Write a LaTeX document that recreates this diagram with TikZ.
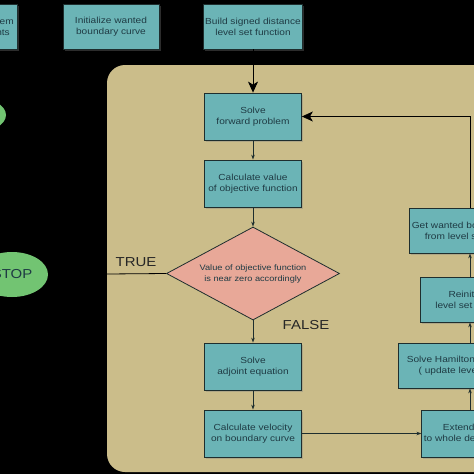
\documentclass[tikz,border=0pt]{standalone}
\usepackage{fontspec}
\usepackage{tikz}
\usetikzlibrary{shapes.geometric,arrows.meta,shadows}
\newfontfamily\chartfont{Liberation Sans}[FakeStretch=1.15]
\definecolor{boxteal}{HTML}{6BB4B6}
\definecolor{boxline}{HTML}{1E2E2E}
\definecolor{boxtext}{HTML}{1F3B44}
\definecolor{tanbg}{HTML}{CBBD8A}
\definecolor{salmon}{HTML}{E8A898}
\definecolor{termgreen}{HTML}{72C472}

\begin{document}
\begin{tikzpicture}[x=1pt,y=-1pt,
  box/.style={draw=boxline, line width=0.8pt, fill=boxteal, text=boxtext,
    align=center, inner sep=2pt, minimum height=45pt,
    font=\chartfont\fontsize{8.8}{11}\selectfont,
    drop shadow={shadow xshift=1.5pt, shadow yshift=-1.5pt, opacity=0.35}},
  decision/.style={diamond, draw=boxline, line width=0.8pt, fill=salmon,
    text=boxtext, align=center, inner sep=0pt, aspect=1.86,
    minimum width=173pt, minimum height=93pt,
    font=\chartfont\fontsize{8}{11}\selectfont},
  term/.style={ellipse, fill=termgreen, text=boxtext,
    font=\chartfont\fontsize{13}{15}\selectfont},
  label/.style={text=black!85, font=\chartfont\fontsize{13}{15}\selectfont},
  smallarrow/.style={draw=boxline, line width=0.8pt, -{Stealth[length=5pt,width=3.5pt]}},
  bigarrow/.style={draw=black, line width=0.8pt, -{Stealth[length=11pt,width=10pt,inset=3pt]}}]

\useasboundingbox (0,0) rectangle (474,474);
\clip (0,0) rectangle (474,474);
\fill[black] (0,0) rectangle (474,474);

% loop area
\fill[tanbg, rounded corners=18pt] (107,65) rectangle (530,472);

% start / stop
\node[term, minimum width=66pt, minimum height=36pt] (start) at (-27,115) {};
\node[term, minimum width=72pt, minimum height=45pt] (stop) at (12,274.5) {STOP};

% set up
\node[box, minimum width=96pt] (define) at (-31,26.5) {Specify the problem\\and its constraints};
\node[box, minimum width=96pt] (init) at (111,26.5) {Initialize wanted\\boundary curve};
\node[box, minimum width=96pt] (build) at (253,26.5) {Build signed distance\\level set function};

% optimization loop
\node[box, minimum width=97pt, minimum height=47pt] (fwd) at (253,116.5) {Solve\\forward problem};
\node[box, minimum width=97pt, minimum height=47pt] (objval) at (253,183.5) {Calculate value\\of objective function};
\node[decision] (dec) at (253,273.5) {Value of objective function\\is near zero accordingly};
\node[box, minimum width=97pt, minimum height=47pt] (adj) at (253,366.5) {Solve\\adjoint equation};
\node[box, minimum width=97pt, minimum height=47pt] (vel) at (253,433.5) {Calculate velocity\\on boundary curve};

\node[box, minimum width=108pt, minimum height=47pt] (ext) at (477,433.5) {Extend velocity\\to whole design domain};
\node[box, minimum width=160pt] (hj) at (478,365.5) {Solve Hamilton-Jacobi equation\\( update level set function)};
\node[box, minimum width=106pt] (reinit) at (473,299.5) {Reinitialize\\level set function};
\node[box, minimum width=130pt] (getb) at (474,230.5) {Get wanted boundary curve\\from level set function};

\node[label] (true) at (136,262) {TRUE};
\node[label] (false) at (306,325) {FALSE};

\coordinate (col) at (470,0);

\draw[bigarrow] (build) -- (fwd);
\draw[smallarrow] (fwd) -- (objval);
\draw[smallarrow] (objval) -- (dec);
\draw[smallarrow] (dec) -- (adj);
\draw[smallarrow] (adj) -- (vel);
\draw[smallarrow] (vel) -- (ext.west |- vel);
\draw[smallarrow] (ext.north -| col) -- (hj.south -| col);
\draw[smallarrow] (hj.north -| col) -- (reinit.south -| col);
\draw[smallarrow] (reinit.north -| col) -- (getb.south -| col);
\draw[bigarrow] (getb.north -| col) |- (fwd.east);
\draw[black, line width=0.8pt] (dec.west) -- (stop.east);
\end{tikzpicture}
\end{document}
